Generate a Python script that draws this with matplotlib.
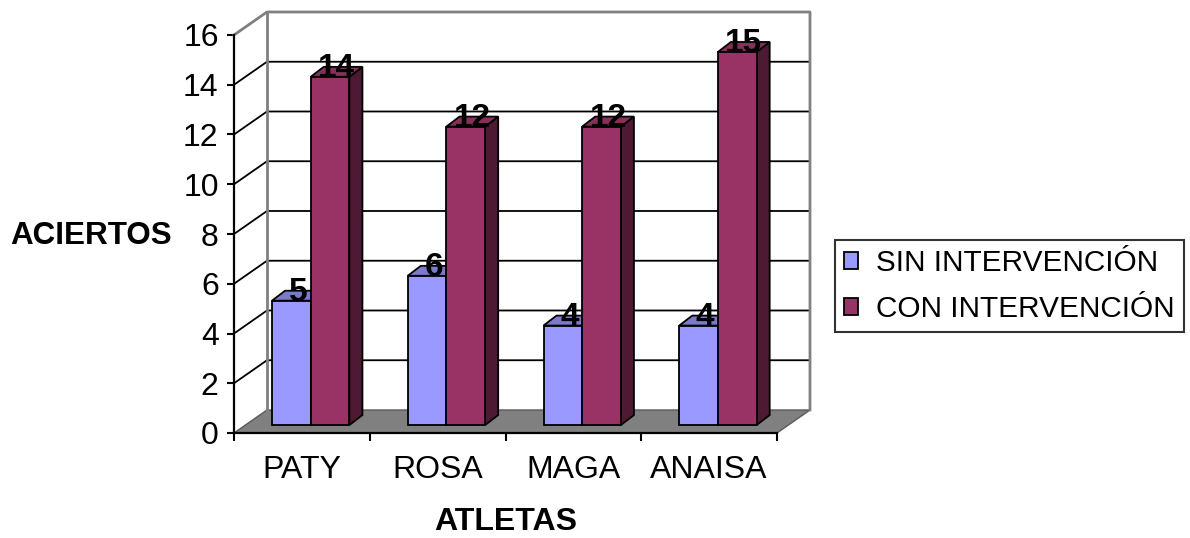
import matplotlib
matplotlib.use("Agg")
import matplotlib.pyplot as plt
from matplotlib.patches import Polygon, Patch

plt.rcParams['font.family'] = ['Liberation Sans', 'DejaVu Sans']

# Aciertos por atleta, antes y después de la intervención
atletas = ['PATY', 'ROSA', 'MAGA', 'ANAISA']
sin_intervencion = [5, 6, 4, 4]
con_intervencion = [14, 12, 12, 15]
series = ['SIN INTERVENCIÓN', 'CON INTERVENCIÓN']
yticks = [0, 2, 4, 6, 8, 10, 12, 14, 16]

# colores: frente, tapa, lateral
azul = ('#9999FF', '#7B7BCC', '#4D4D80')
vino = ('#993366', '#86305A', '#4D1933')

# profundidad de las paredes y de las barras (en unidades de datos)
wx, wy = 0.243, 0.925
bx, by = 0.065, 0.32
dx, dy = 0.096, 0.40
ancho = 0.285

fig = plt.figure(figsize=(11.9, 5.38), dpi=100)
ax = fig.add_axes([234 / 1190, 105 / 538, 543 / 1190, 398 / 538])
ax.set_xlim(0, 4)
ax.set_ylim(0, 16)
ax.patch.set_visible(False)


def poly(pts, fc, ec, lw, z):
    ax.add_patch(Polygon(pts, closed=True, facecolor=fc, edgecolor=ec,
                         linewidth=lw, zorder=z, clip_on=False,
                         joinstyle='miter'))


# piso
poly([(0, 0), (4, 0), (4 + wx, wy), (wx, wy)], '#808080', '#5A5A5A', 1.0, 1)

# lineas de division en pared lateral y pared del fondo
for v in yticks[1:-1]:
    ax.plot([0, wx, 4 + wx], [v, v + wy, v + wy], color='black',
            lw=1.3, zorder=2, clip_on=False)

# borde de las paredes
ax.plot([0, wx, 4 + wx, 4 + wx], [16, 16 + wy, 16 + wy, wy],
        color='#808080', lw=2, zorder=2, clip_on=False)
ax.plot([wx, wx], [wy, 16 + wy], color='#808080', lw=2, zorder=2,
        clip_on=False)


def barra(x0, valor, colores, z):
    x = x0 + bx
    y0 = by
    y1 = by + valor
    frente, tapa, lado = colores
    poly([(x + ancho, y0), (x + ancho + dx, y0 + dy),
          (x + ancho + dx, y1 + dy), (x + ancho, y1)], lado, 'black', 1.3, z)
    poly([(x, y1), (x + ancho, y1), (x + ancho + dx, y1 + dy),
          (x + dx, y1 + dy)], tapa, 'black', 1.3, z)
    poly([(x, y0), (x + ancho, y0), (x + ancho, y1), (x, y1)],
         frente, 'black', 1.3, z)
    ax.text(x + ancho / 2 + dx / 2, y1 + 0.0, str(valor), ha='center',
            va='baseline', fontsize=24, fontweight='bold', zorder=z + 1,
            clip_on=False)


for i in range(len(atletas)):
    barra(i + 0.5 - ancho, sin_intervencion[i], azul, 10 + 4 * i)
    barra(i + 0.5, con_intervencion[i], vino, 12 + 4 * i)

# ejes
for lado in ['top', 'right']:
    ax.spines[lado].set_visible(False)
for lado in ['left', 'bottom']:
    ax.spines[lado].set_linewidth(1.6)
    ax.spines[lado].set_zorder(30)

ax.set_yticks(yticks)
ax.set_yticklabels([str(v) for v in yticks])
ax.tick_params(axis='y', direction='out', length=5, width=1.5, pad=6,
               labelsize=23)
ax.set_xticks([0, 1, 2, 3, 4])
ax.set_xticklabels([])
ax.set_xticks([0.5, 1.5, 2.5, 3.5], minor=True)
ax.set_xticklabels(atletas, minor=True)
ax.tick_params(axis='x', which='major', direction='out', length=6, width=1.5)
ax.tick_params(axis='x', which='minor', length=0, pad=16, labelsize=23)

fig.text(10 / 1190, 1 - 236 / 538, 'ACIERTOS', ha='left', va='center',
         fontsize=22.6, fontweight='bold')
fig.text(506 / 1190, 1 - 522 / 538, 'ATLETAS', ha='center', va='center',
         fontsize=23, fontweight='bold')

handles = [Patch(facecolor=azul[0], edgecolor='black', linewidth=1.3),
           Patch(facecolor=vino[0], edgecolor='black', linewidth=1.3)]
leg = fig.legend(handles, series, loc='center',
                 bbox_to_anchor=(1009.5 / 1190, 1 - 286 / 538),
                 fontsize=21.4, frameon=True, fancybox=False,
                 handlelength=0.47, handleheight=0.47, handletextpad=0.6,
                 borderpad=0.32, labelspacing=0.6, borderaxespad=0)
leg.get_frame().set_edgecolor('black')
leg.get_frame().set_linewidth(1.5)

fig.savefig('out.png', dpi=100)
